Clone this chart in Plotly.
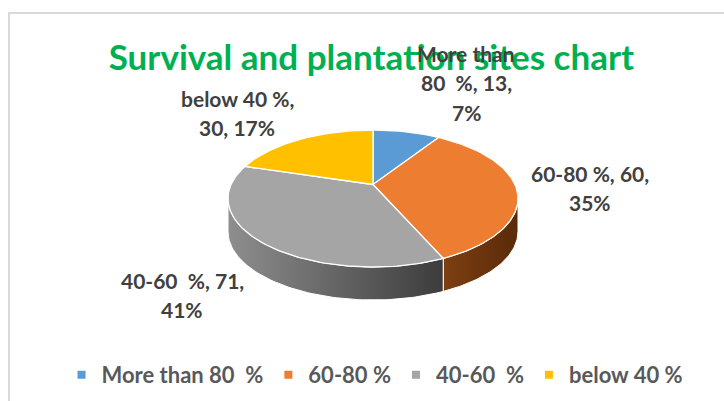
import numpy as np
import plotly.graph_objects as go

# ---- data ----
categories = ["More than 80  %", "60-80 %", "40-60  %", "below 40 %"]
values = [13, 60, 71, 30]
percents = [7, 35, 41, 17]
label_wrap = [["More than", "80  %, {v},", "{p}%"],
              ["60-80 %, {v},", "{p}%"],
              ["40-60  %, {v},", "{p}%"],
              ["below 40 %,", "{v}, {p}%"]]
title_text = "Survival and plantation sites chart"

# ---- styles / layout ----
top_colors = ["#5B9BD5", "#ED7D31", "#A5A5A5", "#FFC000"]
side_scales = [[[0, "#2e5f8f"], [1, "#1f4469"]],
               [[0, "#7d3f12"], [1, "#5a2a08"]],
               [[0, "#8e8e8e"], [1, "#3c3c3c"]],
               [[0, "#a07800"], [1, "#7a5c00"]]]
label_pos = [(466, 53), (590, 173), (182, 280), (237, 98)]
LINE_GAP = 29.5
CX, CY, RX, RY, DEPTH, APEX_DY = 373, 198.5, 145, 68.5, 33, 14
FONT = "Lato"
W, H = 724, 401

vals = np.array(values, dtype=float)
fr = vals / vals.sum()
ends = np.cumsum(fr) * 2 * np.pi
starts = ends - fr * 2 * np.pi


def rim(th):
    return CX + RX * np.sin(th), CY - RY * np.cos(th)


def sp(s):
    return s.replace("  ", "\u00a0\u00a0")


fig = go.Figure()

# side walls (front half only)
for i in range(len(values)):
    a, b = max(starts[i], np.pi / 2), min(ends[i], 3 * np.pi / 2)
    if b <= a:
        continue
    th = np.linspace(a, b, 80)
    x, y = rim(th)
    xs = np.concatenate([x, x[::-1], x[:1]])
    ys = np.concatenate([y, (y + DEPTH)[::-1], y[:1]])
    fig.add_trace(go.Scatter(
        x=xs, y=ys, mode="lines", fill="toself",
        fillgradient=dict(type="horizontal", colorscale=side_scales[i]),
        line=dict(color="white", width=1), hoverinfo="skip", showlegend=False))

# top faces
for i in range(len(values)):
    th = np.linspace(starts[i], ends[i], max(int(fr[i] * 300), 8))
    x, y = rim(th)
    xs = np.concatenate([[CX], x, [CX]])
    ys = np.concatenate([[CY - APEX_DY], y, [CY - APEX_DY]])
    fig.add_trace(go.Scatter(
        x=xs, y=ys, mode="lines", fill="toself", fillcolor=top_colors[i],
        line=dict(color="white", width=1.3), hoverinfo="skip", showlegend=False))

# legend entries
for i, c in enumerate(categories):
    fig.add_trace(go.Scatter(
        x=[None], y=[None], mode="markers", name=sp(c),
        marker=dict(symbol="square", size=8, color=top_colors[i])))

# data labels
for i in range(len(values)):
    lx, ly = label_pos[i]
    for k, line in enumerate(label_wrap[i]):
        txt = line.format(v=values[i], p=percents[i]).replace("  ", "\u00a0 ")
        fig.add_annotation(x=lx, y=ly + k * LINE_GAP, xref="x", yref="y",
                           text=txt, showarrow=False, xanchor="center", yanchor="middle",
                           font=dict(family=FONT, size=21, color="#404040", weight="bold"))

# chart border (top and left edges visible)
fig.add_shape(type="rect", xref="x", yref="y", x0=9, y0=13, x1=W + 10, y1=H + 10,
              line=dict(color="#d9d9d9", width=2), layer="below")

fig.update_layout(
    width=W, height=H, margin=dict(l=0, r=0, t=0, b=0),
    paper_bgcolor="white", plot_bgcolor="white",
    title=dict(text=title_text, x=0.513, xanchor="center", y=1 - 58 / H, yanchor="middle",
               font=dict(family=FONT, size=35, color="#00B050", weight="bold")),
    xaxis=dict(range=[0, W], visible=False, fixedrange=True),
    yaxis=dict(range=[H, 0], visible=False, fixedrange=True),
    legend=dict(orientation="h", x=0.518, xanchor="center", y=1 - 375 / H, yanchor="middle",
                font=dict(family=FONT, size=22, color="#595959", weight="bold"),
                itemwidth=30, bgcolor="rgba(0,0,0,0)"),
    showlegend=True,
)

fig.write_html("out.html", config={"displayModeBar": False},
               post_script="document.body.style.margin='0';document.body.style.overflow='hidden';")
